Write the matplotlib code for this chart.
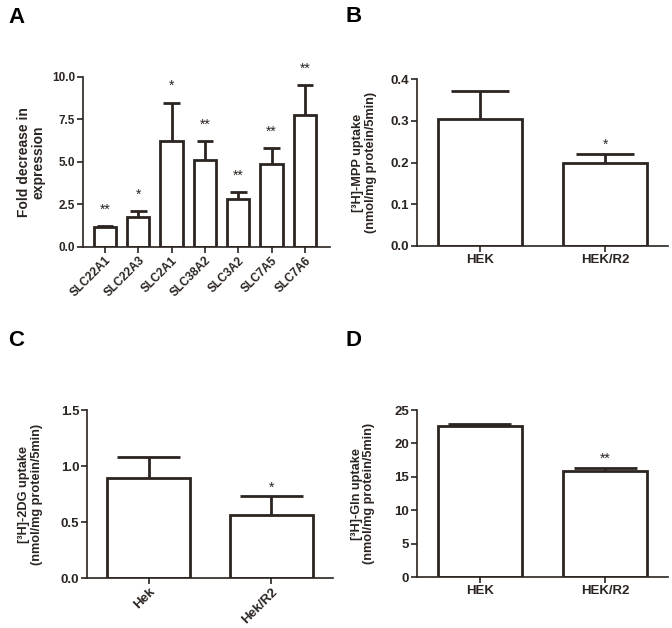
import matplotlib
matplotlib.use("Agg")
import matplotlib.pyplot as plt

plt.rcParams['font.family'] = ['Liberation Sans', 'DejaVu Sans']
plt.rcParams['font.weight'] = 'bold'

INK = '#2b2420'

# Panel A
a_cats = ['SLC22A1', 'SLC22A3', 'SLC2A1', 'SLC38A2', 'SLC3A2', 'SLC7A5', 'SLC7A6']
a_vals = [1.2, 1.78, 6.22, 5.14, 2.82, 4.88, 7.75]
a_errs = [0.02, 0.32, 2.25, 1.08, 0.40, 0.94, 1.76]
a_sig = ['**', '*', '*', '**', '**', '**', '**']

# Panel B
b_cats = ['HEK', 'HEK/R2']
b_vals = [0.305, 0.200]
b_errs = [0.067, 0.021]
b_sig = ['', '*']

# Panel C
c_cats = ['Hek', 'Hek/R2']
c_vals = [0.89, 0.56]
c_errs = [0.19, 0.17]
c_sig = ['', '*']

# Panel D
d_cats = ['HEK', 'HEK/R2']
d_vals = [22.55, 15.9]
d_errs = [0.3, 0.45]
d_sig = ['', '**']

fig = plt.figure(figsize=(6.72, 6.28), dpi=100)


def panel(rect, cats, vals, errs, sig, ylim, yticks, yfmt, ylabel, xlim,
          rot, cap, star_off, tick_fs, xtick_fs, label_fs, labelpad):
    ax = fig.add_axes(rect)
    x = list(range(len(cats)))
    ax.bar(x, vals, width=0.67, color='white', edgecolor=INK, linewidth=2.0, zorder=2)
    tops = [v + e for v, e in zip(vals, errs)]
    ax.vlines(x, vals, tops, color=INK, linewidth=2.0, zorder=1)
    ax.hlines(tops, [xi - cap for xi in x], [xi + cap for xi in x], color=INK,
              linewidth=2.0, zorder=1)
    for xi, t, s in zip(x, tops, sig):
        if s:
            ax.annotate(s, (xi, t), xytext=(0, star_off), textcoords='offset points',
                        ha='center', va='bottom', fontsize=10,
                        fontweight='normal', color=INK)
    ax.set_xlim(*xlim)
    ax.set_ylim(*ylim)
    ax.set_yticks(yticks)
    ax.set_yticklabels([yfmt.format(t) for t in yticks], fontsize=tick_fs, fontweight='bold')
    ax.set_xticks(x)
    if rot:
        ax.set_xticklabels(cats, rotation=45, ha='right', rotation_mode='anchor',
                           fontsize=xtick_fs, fontweight='bold')
    else:
        ax.set_xticklabels(cats, fontsize=xtick_fs, fontweight='bold')
    ax.spines['top'].set_visible(False)
    ax.spines['right'].set_visible(False)
    for sp in ('left', 'bottom'):
        ax.spines[sp].set_color(INK)
        ax.spines[sp].set_linewidth(1.2)
    ax.tick_params(axis='both', direction='out', length=4, width=1.2, color=INK,
                   labelcolor=INK, pad=1.5)
    ax.set_ylabel(ylabel, fontsize=label_fs, fontweight='bold', color=INK,
                  labelpad=labelpad, linespacing=1.05)
    ax.patch.set_alpha(0)
    return ax


panel([0.1235, 0.6067, 0.3675, 0.2707], a_cats, a_vals, a_errs, a_sig,
      (0, 10), [0, 2.5, 5.0, 7.5, 10.0], '{:.1f}', 'Fold decrease in\nexpression',
      (-0.66, 6.75), True, 0.25, 7, 8.5, 8.5, 10, 5)

panel([0.6205, 0.6083, 0.3735, 0.2657], b_cats, b_vals, b_errs, b_sig,
      (0, 0.4), [0, 0.1, 0.2, 0.3, 0.4], '{:.1f}',
      '[³H]-MPP uptake\n(nmol/mg protein/5min)',
      (-0.5, 1.5), False, 0.23, 1.5, 9.5, 9.5, 9.2, 10)

panel([0.1295, 0.0796, 0.366, 0.2674], c_cats, c_vals, c_errs, c_sig,
      (0, 1.5), [0, 0.5, 1.0, 1.5], '{:.1f}',
      '[³H]-2DG uptake\n(nmol/mg protein/5min)',
      (-0.5, 1.5), True, 0.26, 1.0, 9.5, 9.5, 9.2, 13)

panel([0.6205, 0.0812, 0.3735, 0.2658], d_cats, d_vals, d_errs, d_sig,
      (0, 25), [0, 5, 10, 15, 20, 25], '{:d}',
      '[³H]-Gln uptake\n(nmol/mg protein/5min)',
      (-0.5, 1.5), False, 0.25, 1.5, 9.5, 9.5, 9.2, 14)

for lbl, (fx, fy) in zip('ABCD', [(0.012, 0.989), (0.514, 0.990), (0.012, 0.475), (0.514, 0.475)]):
    fig.text(fx, fy, lbl, fontsize=16, fontweight='bold', color='black', va='top', ha='left')

fig.savefig('out.png', dpi=100, facecolor='white')
